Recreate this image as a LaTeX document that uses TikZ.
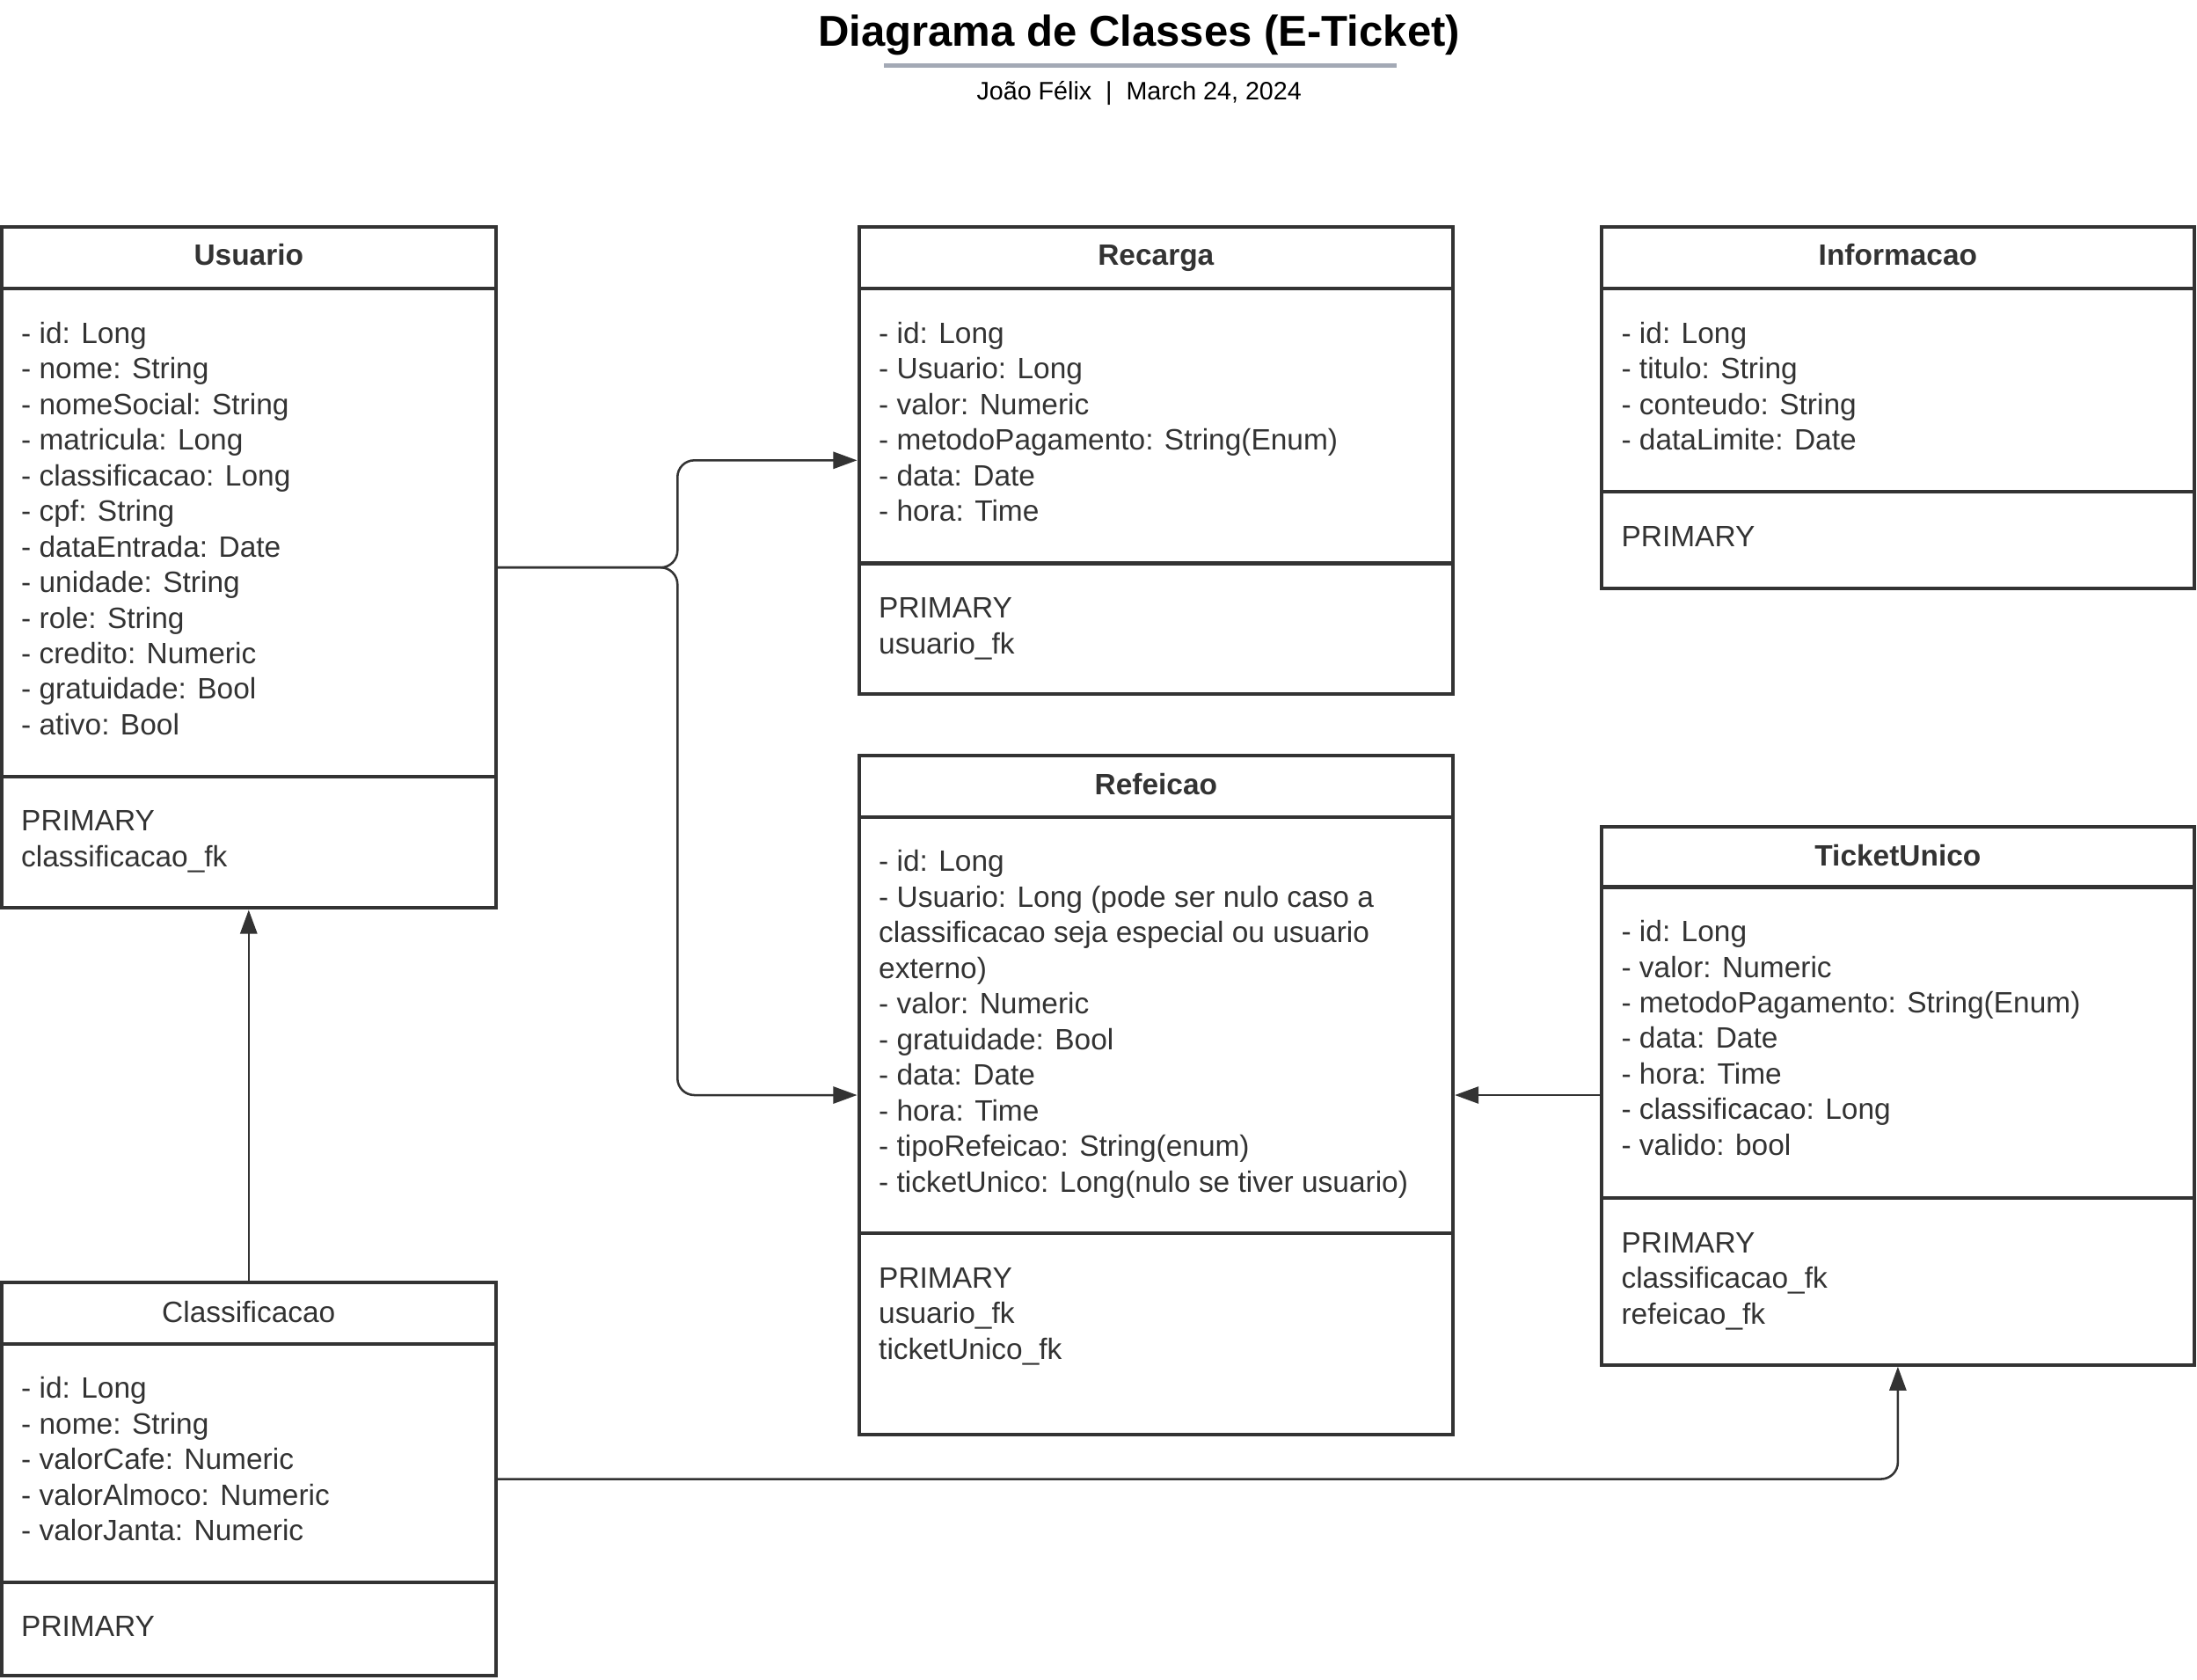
\documentclass[tikz,border=0pt]{standalone}
\usepackage{fontspec}
\setmainfont{Liberation Sans}
\usetikzlibrary{arrows.meta,calc}
\definecolor{ink}{HTML}{333333}
\definecolor{rulegray}{HTML}{A3A9B5}
\tikzset{
  classbox/.style={draw=ink, line width=2.6pt, inner sep=0pt, anchor=north west},
  divider/.style={draw=ink, line width=2.6pt},
  attr/.style={text=ink, inner sep=0pt, anchor=base west, font=\fontsize{21}{25.4}\selectfont},
  hdrbold/.style={text=ink, inner sep=0pt, anchor=base, font=\fontsize{21}{25.4}\selectfont\bfseries},
  hdrplain/.style={text=ink, inner sep=0pt, anchor=base, font=\fontsize{21}{25.4}\selectfont},
  conn/.style={draw=ink, line width=1.6pt, rounded corners=12pt, -{Triangle[length=17pt,width=12pt]}},
}
% #1 name, #2 x0, #3 x1, #4 top, #5 header bottom, #6 divider, #7 bottom
\newcommand\mkframe[7]{%
  \node[classbox, minimum width={#3-#2}, minimum height={#7-#4}] (#1) at (#2-1.3,#4-1.3) {};
  \draw[divider] (#2,#5) -- (#3,#5);
  \draw[divider] (#2,#6) -- (#3,#6);
}
% #1 name prefix, #2 x, #3 first baseline, #4 list
\newcommand\mklines[4]{%
  \foreach \t [count=\i from 0] in {#4}
    \node[attr] (#1\i) at (#2+14, #3+\i*25.4) {\t};
}
\begin{document}
\begin{tikzpicture}[x=1pt, y=-1pt]
\useasboundingbox (0,0) rectangle (1568,1198.3);

% title
\node[font=\fontsize{30.8}{36}\selectfont\bfseries, anchor=base, inner sep=0pt] (title) at (813,33) {Diagrama de Classes (E-Ticket)};
\draw[rulegray, line width=3pt] (631,47) -- (997,47);
\node[font=\fontsize{18}{22}\selectfont, anchor=base, inner sep=0pt] (subtitle) at (813,71) {João Félix~~|~~March 24, 2024};

% Usuario
\mkframe{usuario}{1}{354}{162}{206}{554}{648}
\node[hdrbold] (usuario-t) at (177.5,189.5) {Usuario};
\mklines{usuario-a}{1}{245}{- id: Long, - nome: String, - nomeSocial: String, - matricula: Long, - classificacao: Long, - cpf: String, - dataEntrada: Date, - unidade: String, - role: String, - credito: Numeric, - gratuidade: Bool, - ativo: Bool}
\mklines{usuario-m}{1}{593}{PRIMARY, classificacao\_fk}

% Recarga
\mkframe{recarga}{613}{1037}{162}{206}{402}{495}
\node[hdrbold] (recarga-t) at (825,189.5) {Recarga};
\mklines{recarga-a}{613}{245}{- id: Long, - Usuario: Long, - valor: Numeric, - metodoPagamento: String(Enum), - data: Date, - hora: Time}
\mklines{recarga-m}{613}{441}{PRIMARY, usuario\_fk}

% Informacao
\mkframe{informacao}{1143}{1566}{162}{206}{351}{420}
\node[hdrbold] (informacao-t) at (1354.5,189.5) {Informacao};
\mklines{informacao-a}{1143}{245}{- id: Long, - titulo: String, - conteudo: String, - dataLimite: Date}
\mklines{informacao-m}{1143}{390}{PRIMARY}

% Refeicao
\mkframe{refeicao}{613}{1037}{539}{583}{880}{1024}
\node[hdrbold] (refeicao-t) at (825,567) {Refeicao};
\mklines{refeicao-a}{613}{622}{- id: Long, - Usuario: Long (pode ser nulo caso a, classificacao seja especial ou usuario, externo), - valor: Numeric, - gratuidade: Bool, - data: Date, - hora: Time, - tipoRefeicao: String(enum), - ticketUnico: Long(nulo se tiver usuario)}
\mklines{refeicao-m}{613}{919}{PRIMARY, usuario\_fk, ticketUnico\_fk}

% TicketUnico
\mkframe{ticket}{1143}{1566}{590}{633}{855}{974}
\node[hdrbold] (ticket-t) at (1354.5,618) {TicketUnico};
\mklines{ticket-a}{1143}{672}{- id: Long, - valor: Numeric, - metodoPagamento: String(Enum), - data: Date, - hora: Time, - classificacao: Long, - valido: bool}
\mklines{ticket-m}{1143}{894}{PRIMARY, classificacao\_fk, refeicao\_fk}

% Classificacao
\mkframe{classif}{1}{354}{915}{959}{1129}{1196}
\node[hdrplain] (classif-t) at (177.5,943.5) {Classificacao};
\mklines{classif-a}{1}{998}{- id: Long, - nome: String, - valorCafe: Numeric, - valorAlmoco: Numeric, - valorJanta: Numeric}
\mklines{classif-m}{1}{1168}{PRIMARY}

% connectors
\coordinate (split) at ($(usuario.east)!0.5!(recarga.west |- usuario.east)$);
\draw[conn] (usuario.east) -| (split |- recarga.west) -- (recarga.west);
\draw[conn] (usuario.east) -| (split |- refeicao.west) -- (refeicao.west);
\draw[conn] (ticket.west |- refeicao.east) -- (refeicao.east);
\draw[conn] (classif.north) -- (usuario.south);
\draw[conn] (classif.east) -| (ticket.south);
\end{tikzpicture}
\end{document}
